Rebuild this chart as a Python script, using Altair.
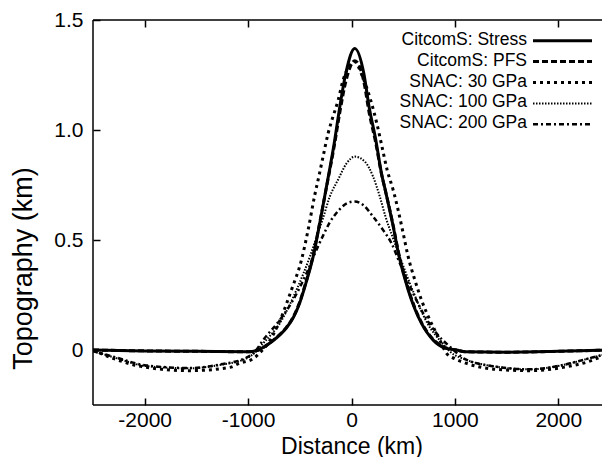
import altair as alt
import pandas as pd

names = ["CitcomS: Stress", "CitcomS: PFS", "SNAC: 30 GPa", "SNAC: 100 GPa", "SNAC: 200 GPa"]

stress_x = [-2500, -2000, -1500, -1000, -900, -825, -760, -690, -630, -560, -500, -440, -371, -307, -248, -162, -113, -55,
            32, 119, 170, 235, 290, 330, 397, 461, 548, 610, 677, 790, 900, 1016, 1100, 1500, 2000, 2500]
stress_y = [0.0, -0.004, -0.006, -0.008, 0.0, 0.02, 0.042, 0.07, 0.1, 0.15, 0.215, 0.305, 0.424, 0.576, 0.727, 0.955,
            1.106, 1.258, 1.371, 1.258, 1.106, 0.955, 0.803, 0.72, 0.576, 0.424, 0.273, 0.19, 0.121, 0.045, 0.01, 0.0,
            -0.008, -0.01, -0.006, 0.0]

pfs_x = [-2500, -2000, -1500, -1000, -900, -825, -760, -690, -630, -560, -500, -440, -371, -307, -248, -162, -113, -55,
         32, 119, 170, 235, 290, 330, 397, 461, 548, 610, 677, 790, 900, 1016, 1100, 1500, 2000, 2500]
pfs_y = [0.0, -0.004, -0.006, -0.008, 0.0, 0.02, 0.043, 0.072, 0.103, 0.153, 0.22, 0.31, 0.43, 0.58, 0.725, 0.94,
         1.08, 1.22, 1.315, 1.22, 1.08, 0.94, 0.80, 0.72, 0.58, 0.43, 0.28, 0.195, 0.125, 0.048, 0.012, 0.0,
         -0.008, -0.01, -0.006, 0.0]

snac30_x = [-2500, -2307, -1984, -1565, -1178, -1082, -952, -880, -823, -677, -581, -484, -420, -355, -316, -275, -226,
            -194, -129, -81, 32, 100, 185, 245, 295, 345, 403, 451, 500, 548, 613, 677, 758, 838, 919, 1000, 1113,
            1403, 1726, 2048, 2338, 2500]
snac30_y = [0.0, -0.038, -0.079, -0.094, -0.079, -0.06, -0.04, -0.01, 0.02, 0.151, 0.273, 0.409, 0.545, 0.705, 0.788,
            0.879, 0.985, 1.038, 1.136, 1.227, 1.31, 1.25, 1.136, 1.03, 0.924, 0.818, 0.727, 0.636, 0.53, 0.424, 0.318,
            0.227, 0.136, 0.06, -0.015, -0.04, -0.061, -0.088, -0.094, -0.079, -0.045, -0.01]

snac100_x = [-2500, -2307, -1984, -1565, -1274, -1016, -930, -855, -694, -532, -403, -340, -275, -210, -129, -48, 32,
             129, 209, 274, 329, 400, 467, 590, 735, 880, 960, 1113, 1403, 1726, 2048, 2338, 2500]
snac100_y = [-0.005, -0.032, -0.073, -0.083, -0.068, -0.038, -0.01, 0.03, 0.121, 0.273, 0.424, 0.51, 0.60, 0.697, 0.775,
             0.848, 0.879, 0.856, 0.788, 0.697, 0.606, 0.51, 0.424, 0.273, 0.121, 0.03, -0.01, -0.045, -0.076, -0.088,
             -0.068, -0.033, -0.015]

snac200_x = [-2500, -2307, -1984, -1565, -1274, -1016, -930, -855, -694, -565, -436, -339, -275, -210, -113, -40, 32,
             113, 209, 306, 387, 468, 581, 693, 822, 951, 1113, 1403, 1726, 2048, 2338, 2500]
snac200_y = [-0.005, -0.03, -0.07, -0.082, -0.066, -0.035, -0.005, 0.045, 0.136, 0.227, 0.348, 0.455, 0.52, 0.58, 0.64,
             0.668, 0.675, 0.659, 0.606, 0.545, 0.485, 0.394, 0.273, 0.167, 0.076, 0.015, -0.045, -0.076, -0.088,
             -0.068, -0.033, -0.015]

x_ticks = [-2000, -1000, 0, 1000, 2000]
y_ticks = [0, 0.5, 1.0, 1.5]

series_x = [stress_x, pfs_x, snac30_x, snac100_x, snac200_x]
series_y = [stress_y, pfs_y, snac30_y, snac100_y, snac200_y]

FONT = "Liberation Sans"
widths = [3, 3, 3, 2, 2.5]
dashes = [None, [6, 3], [3, 4], [1.5, 1.5], [5, 3, 2, 3]]

PLOT_W = 517   # full data width (right edge falls at the window edge)
VIEW_W = 509   # visible part inside the page
PLOT_H = 385

xscale = alt.Scale(domain=[-2500, 2500], nice=False, zero=False, range=[0, PLOT_W])
yscale = alt.Scale(domain=[-0.25, 1.5], nice=False, zero=False)

bottom_axis = alt.Axis(orient="bottom", values=x_ticks, labelExpr="'' + datum.value", title="Distance (km)",
                       domain=False, tickSize=7, offset=-7, labelPadding=4, labelFontSize=21,
                       titleFontSize=23, titleX=258.5, titleY=55, titleBaseline="alphabetic", titleAlign="center")
left_axis = alt.Axis(orient="left", values=y_ticks,
                     labelExpr="datum.value == 0 ? '0' : format(datum.value, '.1f')",
                     title="Topography (km)", domain=False, tickSize=7, offset=-7, labelPadding=10,
                     labelFontSize=21, titleFontSize=27, titleX=-77, titleY=248, titleAngle=270,
                     titleAlign="center", titleBaseline="middle")

layers = []
for i, name in enumerate(names):
    df = pd.DataFrame({"x": series_x[i], "y": series_y[i], "series": name})
    kw = dict(color="black", strokeWidth=widths[i], interpolate="monotone", clip=True)
    if dashes[i] is not None:
        kw["strokeDash"] = dashes[i]
    layers.append(
        alt.Chart(df).mark_line(**kw).encode(
            x=alt.X("x:Q", scale=xscale, axis=bottom_axis),
            y=alt.Y("y:Q", scale=yscale, axis=left_axis),
        )
    )

one = pd.DataFrame({"k": [0]})
frame_rules = [
    alt.Chart(one).mark_rule(color="black", strokeWidth=1.5).encode(x=alt.value(0), x2=alt.value(PLOT_W), y=alt.value(0)),
    alt.Chart(one).mark_rule(color="black", strokeWidth=1.5).encode(x=alt.value(0), x2=alt.value(PLOT_W), y=alt.value(PLOT_H)),
    alt.Chart(one).mark_rule(color="black", strokeWidth=1.5).encode(x=alt.value(0), y=alt.value(0), y2=alt.value(PLOT_H)),
]

legend_layers = []
for i, name in enumerate(names):
    ly = 20.7 + 20.9 * i
    ldf = pd.DataFrame({"series": [name]})
    kw = dict(color="black", strokeWidth=widths[i])
    if dashes[i] is not None:
        kw["strokeDash"] = dashes[i]
    legend_layers.append(
        alt.Chart(ldf).mark_rule(**kw).encode(x=alt.value(440), x2=alt.value(499), y=alt.value(ly))
    )
    legend_layers.append(
        alt.Chart(ldf).mark_text(align="right", baseline="middle", fontSize=17.5, font=FONT, color="black").encode(
            x=alt.value(434), y=alt.value(ly - 1), text="series:N")
    )

frame = alt.Chart(pd.DataFrame({"x": stress_x, "y": stress_y})).mark_line(opacity=0).encode(
    x=alt.X("x:Q", scale=xscale, axis=alt.Axis(orient="top", values=x_ticks, labels=False, title=None,
                                               domain=False, tickSize=7, offset=-7)),
    y=alt.Y("y:Q", scale=yscale, axis=None),
)

chart = alt.layer(alt.layer(*layers, *frame_rules, *legend_layers), frame).resolve_scale(
    x="independent", y="independent"
).properties(
    width=VIEW_W, height=PLOT_H,
    autosize=alt.AutoSizeParams(type="none"),
    padding={"left": 85, "top": 12, "right": 0, "bottom": 52},
).configure_view(stroke=None).configure_axis(
    grid=False, tickColor="black", tickWidth=1.5, labelColor="black", titleColor="black",
    labelFont=FONT, titleFont=FONT, titleFontWeight="normal"
)

chart.save("out.html", embed_options={"renderer": "svg", "actions": False})
